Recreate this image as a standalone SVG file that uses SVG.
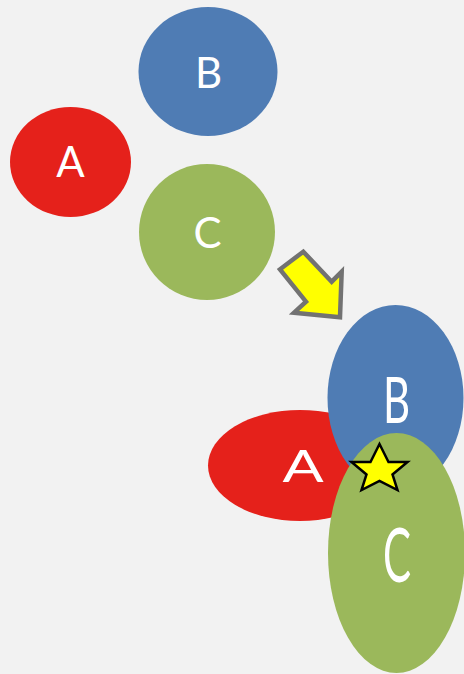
<svg xmlns="http://www.w3.org/2000/svg" width="464" height="674" viewBox="0 0 464 674">
  <style>
    .red { fill: #e5211b; }
    .blue { fill: #4f7cb4; }
    .green { fill: #9bb85b; }
    .lbl { fill: #ffffff; font-family: Lato, "Open Sans", "Liberation Sans", sans-serif; font-size: 42px; text-anchor: middle; }
    .arrow { fill: #ffff00; stroke: #727272; stroke-width: 4.5; stroke-linejoin: miter; }
    .star { fill: #ffff00; stroke: #000000; stroke-width: 2.5; stroke-linejoin: miter; }
  </style>
  <rect width="464" height="674" fill="#f2f2f2"/>

  <!-- separate circles -->
  <g id="node-b-top">
    <ellipse class="blue" cx="208" cy="71.5" rx="69.5" ry="64.5"/>
    <text class="lbl" x="208.5" y="88">B</text>
  </g>
  <g id="node-a-top">
    <ellipse class="red" cx="70.5" cy="162" rx="60.5" ry="55"/>
    <text class="lbl" x="70.5" y="177">A</text>
  </g>
  <g id="node-c-top">
    <ellipse class="green" cx="207" cy="232" rx="68" ry="68"/>
    <text class="lbl" x="207.5" y="248">C</text>
  </g>

  <!-- transition arrow -->
  <g id="connectors">
    <polygon class="arrow" points="303.3,251.7 280,269.3 306,301.7 294,312.7 340,317.3 341.7,271.7 331.7,281.7"/>
  </g>

  <!-- overlapping stretched shapes -->
  <g id="node-a-bottom">
    <ellipse class="red" cx="300" cy="465.5" rx="92" ry="55.5"/>
    <text class="lbl" transform="translate(303,482) scale(1.45,1.07)">A</text>
  </g>
  <g id="node-b-bottom">
    <ellipse class="blue" cx="395.5" cy="398" rx="68" ry="93"/>
    <text class="lbl" transform="translate(396.5,423) scale(1,1.5)">B</text>
  </g>
  <g id="node-c-bottom">
    <ellipse class="green" cx="396.5" cy="553" rx="68.5" ry="120"/>
    <text class="lbl" transform="translate(397,582) scale(1,1.8)">C</text>
  </g>

  <g id="star">
    <polygon class="star" points="379.5,444 388.5,462 407.5,462 392.5,474.5 397.5,490 379.5,481 361.5,490 366.5,474.5 351.5,462 370.5,462"/>
  </g>
</svg>
